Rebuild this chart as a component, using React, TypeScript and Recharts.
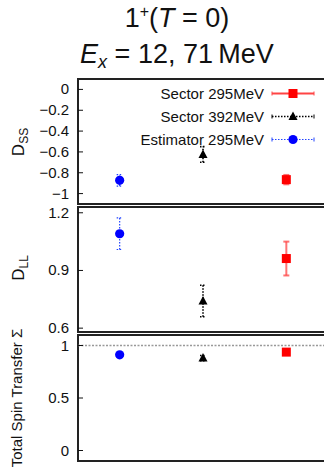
import React from "react";
import {
  ScatterChart,
  Scatter,
  XAxis,
  YAxis,
  ErrorBar,
  ReferenceArea,
  ReferenceLine,
  Legend,
} from "recharts";

// ---------- data ----------
const seriesNames = ["Estimator 295MeV", "Sector 392MeV", "Sector 295MeV"];
const seriesX = [1, 2, 3];
const dssValues = [-0.873, -0.624, -0.866];
const dssErrors = [0.055, 0.075, 0.045];
const dllValues = [1.091, 0.741, 0.962];
const dllErrors = [0.082, 0.082, 0.088];
const sigmaValues = [0.911, 0.88, 0.937];
const sigmaErrors = [0.01, 0.025, 0.01];
const dssTicks = [-1, -0.8, -0.6, -0.4, -0.2, 0];
const dllTicks = [0.6, 0.9, 1.2];
const sigmaTicks = [0, 0.5, 1];
const sigmaReference = 1;
const legendOrder = [2, 1, 0];

// ---------- styles ----------
const FONT = "'Liberation Sans', Arial, Helvetica, sans-serif";
const PLOT_LEFT = 78;
const X_DOMAIN: [number, number] = [0.5, 3.5];
const STYLES = [
  { color: "#0000ff", shape: "circle", bar: "#2244ff", dash: "1.5 1.5", barWidth: 1.2 },
  { color: "#000000", shape: "triangle", bar: "#000000", dash: "1.5 1.5", barWidth: 1.6 },
  { color: "#ff0000", shape: "square", bar: "#ff4444", dash: undefined as string | undefined, barWidth: 2 },
];

const Marker = (shape: string, color: string) => (props: any) => {
  const { cx, cy } = props;
  if (cx == null || cy == null) return <g />;
  if (shape === "circle") return <circle cx={cx} cy={cy} r={4.6} fill={color} />;
  if (shape === "triangle")
    return (
      <polygon
        points={`${cx},${cy - 5} ${cx - 4.5},${cy + 3.5} ${cx + 4.5},${cy + 3.5}`}
        fill={color}
      />
    );
  return <rect x={cx - 4.5} y={cy - 4.5} width={9} height={9} fill={color} />;
};

const fmt = (v: number) => (v < 0 ? "\u2212" + Math.abs(v) : String(v));

const Tick = (props: any) => {
  const { x, y, payload } = props;
  return (
    <g>
      <text
        x={x}
        y={y}
        dy={5}
        textAnchor="end"
        fontSize={15}
        fontFamily={FONT}
        fill="#111"
      >
        {fmt(payload.value)}
      </text>
      <line x1={PLOT_LEFT} x2={PLOT_LEFT + 5} y1={y} y2={y} stroke="#111" strokeWidth={1} />
    </g>
  );
};

const LegendContent = () => (
  <div style={{ fontFamily: FONT, fontSize: 15, color: "#111" }}>
    {legendOrder.map((i) => {
      const s = STYLES[i];
      return (
        <div key={i} style={{ display: "flex", alignItems: "center", height: 23 }}>
          <span style={{ width: 264, textAlign: "right", whiteSpace: "nowrap" }}>
            {seriesNames[i]}
          </span>
          <svg width={60} height={23}>
            <line x1={8} x2={50} y1={11.5} y2={11.5} stroke={s.bar} strokeWidth={s.barWidth} strokeDasharray={s.dash} />
            <line x1={8} x2={8} y1={9.5} y2={13.5} stroke={s.bar} strokeWidth={1} />
            <line x1={50} x2={50} y1={9.5} y2={13.5} stroke={s.bar} strokeWidth={1} />
            {Marker(s.shape, s.color)({ cx: 29, cy: 11.5 })}
          </svg>
        </div>
      );
    })}
  </div>
);

function Panel(props: {
  values: number[];
  errors: number[];
  domain: [number, number];
  ticks: number[];
  height: number;
  top: number;
  bottom: number;
  legend?: boolean;
  refY?: number;
}) {
  const { values, errors, domain, ticks, height, top, bottom, legend, refY } = props;
  return (
    <ScatterChart
      width={340}
      height={height}
      margin={{ top, right: 12, bottom, left: 0 }}
    >
      <XAxis dataKey="x" type="number" domain={X_DOMAIN} hide />
      <YAxis
        dataKey="y"
        type="number"
        domain={domain}
        ticks={ticks}
        allowDataOverflow
        width={PLOT_LEFT}
        axisLine={false}
        tickLine={false}
        tickSize={6}
        tickMargin={3}
        tick={<Tick />}
        interval={0}
      />
      {refY !== undefined && (
        <ReferenceLine y={refY} stroke="#999" strokeWidth={1.5} strokeDasharray="2 1.5" />
      )}
      <ReferenceArea
        x1={X_DOMAIN[0]}
        x2={X_DOMAIN[1]}
        y1={domain[0]}
        y2={domain[1]}
        fill="none"
        fillOpacity={0}
        stroke="#222"
        strokeWidth={2}
        ifOverflow="visible"
      />
      {seriesNames.map((name, i) => {
        const s = STYLES[i];
        return (
          <Scatter
            key={name}
            name={name}
            data={[{ x: seriesX[i], y: values[i], err: errors[i] }]}
            fill={s.color}
            shape={Marker(s.shape, s.color)}
            isAnimationActive={false}
          >
            <ErrorBar
              dataKey="err"
              direction="y"
              width={3}
              stroke={s.bar}
              strokeWidth={s.barWidth}
              strokeDasharray={s.dash}
              strokeOpacity={i === 2 ? 0.75 : 1}
            />
          </Scatter>
        );
      })}
      {legend && (
        <Legend
          layout="vertical"
          align="center"
          verticalAlign="middle"
          content={<LegendContent />}
          wrapperStyle={{ left: 0, top: 82, width: 324 }}
        />
      )}
    </ScatterChart>
  );
}

export default function App() {
  return (
    <div
      style={{
        position: "absolute",
        left: 0,
        top: 0,
        width: 324,
        height: 469,
        overflow: "hidden",
        background: "#fff",
      }}
    >
      <div style={{ position: "absolute", left: 0, top: 0 }}>
        <Panel
          values={dssValues}
          errors={dssErrors}
          domain={[-1.1, 0.1]}
          ticks={dssTicks}
          height={212}
          top={79}
          bottom={8}
          legend
        />
      </div>
      <div style={{ position: "absolute", left: 0, top: 200 }}>
        <Panel
          values={dllValues}
          errors={dllErrors}
          domain={[0.58, 1.23]}
          ticks={dllTicks}
          height={140}
          top={7}
          bottom={8}
        />
      </div>
      <div style={{ position: "absolute", left: 0, top: 326 }}>
        <Panel
          values={sigmaValues}
          errors={sigmaErrors}
          domain={[-0.1, 1.1]}
          ticks={sigmaTicks}
          height={144}
          top={9}
          bottom={9}
          refY={sigmaReference}
        />
      </div>
      <svg
        width={324}
        height={469}
        style={{ position: "absolute", left: 0, top: 0, pointerEvents: "none" }}
        fontFamily={FONT}
        fill="#111"
      >
        <text x={177} y={27} textAnchor="middle" fontSize={27}>
          1<tspan fontSize={16} dy={-10}>+</tspan>
          <tspan dy={10}>(</tspan>
          <tspan fontStyle="italic">T</tspan>
          <tspan> = 0)</tspan>
        </text>
        <text x={177} y={63} textAnchor="middle" fontSize={27}>
          <tspan fontStyle="italic">E</tspan>
          <tspan fontStyle="italic" fontSize={18} dy={5}>x</tspan>
          <tspan dy={-5}> = 12, 71{"\u2009"}MeV</tspan>
        </text>
        <text transform="translate(24,142) rotate(-90)" textAnchor="middle" fontSize={17}>
          D<tspan fontSize={12} dy={4}>SS</tspan>
        </text>
        <text transform="translate(24,268) rotate(-90)" textAnchor="middle" fontSize={17}>
          D<tspan fontSize={12} dy={4}>LL</tspan>
        </text>
        <text transform="translate(22,398) rotate(-90)" textAnchor="middle" fontSize={15}>
          Total Spin Transfer Σ
        </text>
      </svg>
    </div>
  );
}
